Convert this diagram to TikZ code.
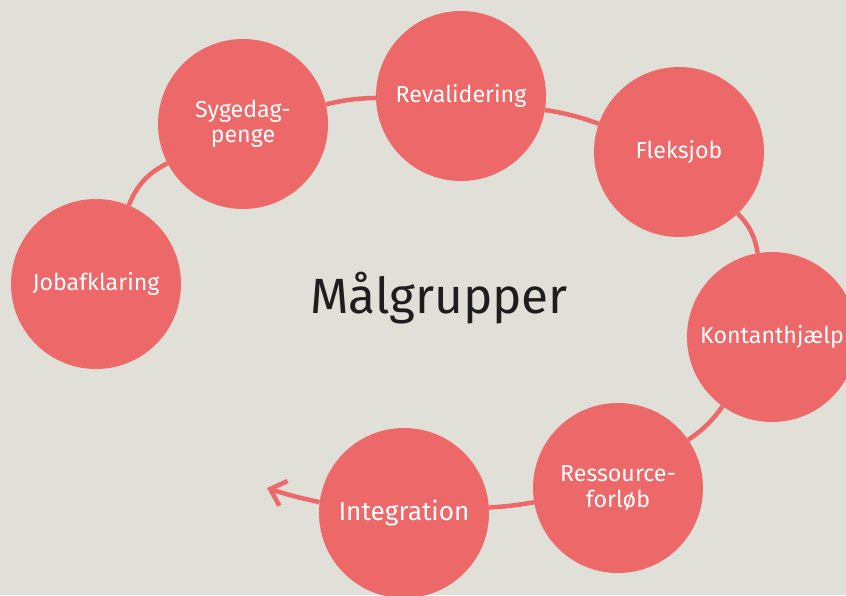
\documentclass[tikz,border=0pt]{standalone}
\usepackage{fontspec}
\setmainfont{Fira Sans}
\usetikzlibrary{arrows.meta,positioning}
\definecolor{bgcol}{RGB}{224,224,216}
\definecolor{salmon}{RGB}{236,104,105}
\definecolor{ink}{RGB}{30,30,30}

\begin{document}
\begin{tikzpicture}[x=1pt, y=1pt, >={Straight Barb[length=14pt,width=26pt]}, minimum size=170pt]
	    \tikzstyle{round}=[fill=salmon, circle, text=white, align=center, inner sep=0pt, font=\fontsize{23.2}{25.5}\selectfont]
	    \tikzstyle{link}=[line width=4.5pt, draw=salmon]

	    \path[use as bounding box, fill=bgcol] (0,0) rectangle (846,595);
	    \clip (0,0) rectangle (846,595);

	    \node[round] (jobafklaring) at (96,311) {Jobafklaring};
	    \node[round] (sygedagpenge) at (243,471) {Sygedag-\\penge};
	    \node[round] (revalidering) at (461,499) {Revalidering};
	    \node[round] (fleksjob) at (679,443) {Fleksjob};
	    \node[round] (kontanthjaelp) at (772,258) {Kontanthjælp};
	    \node[round] (ressource) at (618,107) {Ressource-\\forløb};
	    \node[round, font=\fontsize{26.2}{30}\selectfont] (integration) at (404,82) {Integration};
	    \coordinate (tip) at (267,107);

	    \node[text=ink, font=\fontsize{49.5}{54}\selectfont] (maalgrupper) at (439,297) {Målgrupper};

	    \path
	    (jobafklaring)	edge [link, bend left=20]	(sygedagpenge)
	    (sygedagpenge)	edge [link, bend left=6]	(revalidering)
	    (revalidering)	edge [link, bend left=5]	(fleksjob)
	    (fleksjob)		edge [link, bend left=17]	(kontanthjaelp)
	    (kontanthjaelp)	edge [link, bend left=10]	(ressource)
	    (ressource)		edge [link, bend left=3]	(integration)
	    (integration)	edge [link, ->, bend left=3]	(tip)
	    ;

\end{tikzpicture}
\end{document}
